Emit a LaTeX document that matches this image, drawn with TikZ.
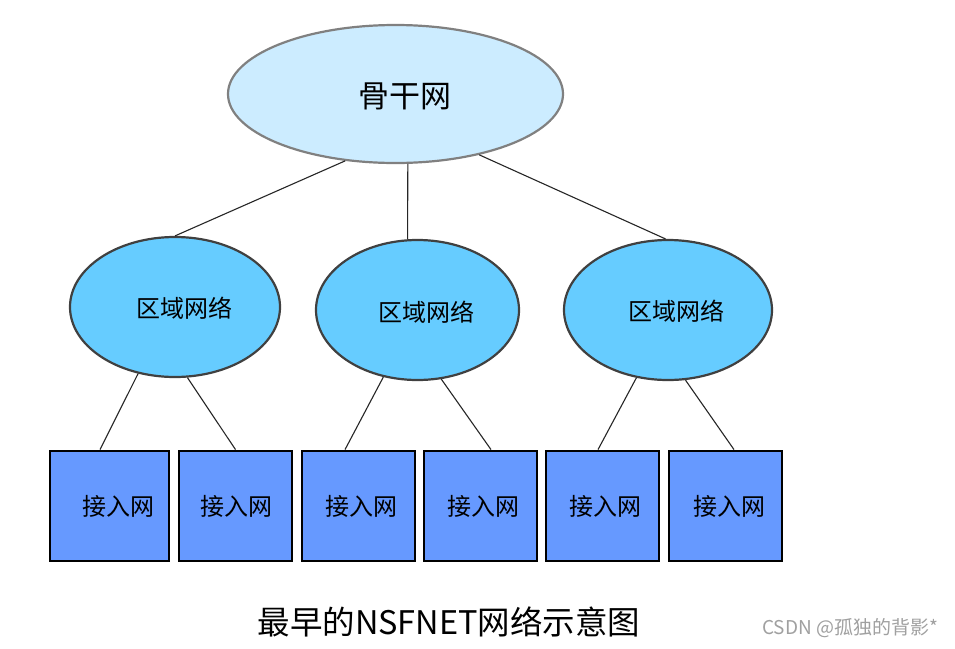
\documentclass[tikz,border=0pt]{standalone}
\usepackage{fontspec}
\setmainfont{Noto Sans CJK SC}
\usetikzlibrary{shapes.geometric,calc}
\definecolor{topfill}{HTML}{CCECFF}
\definecolor{topborder}{HTML}{808080}
\definecolor{regfill}{HTML}{66CCFF}
\definecolor{regborder}{HTML}{404040}
\definecolor{boxfill}{HTML}{6699FF}
\definecolor{wmgray}{HTML}{A0A0A0}
\newcommand{\fsz}[1]{\fontsize{#1}{#1}\selectfont}
\tikzset{
  topell/.style={ellipse, draw=topborder, line width=2.2pt, fill=topfill, minimum width=335pt, minimum height=138pt, inner sep=0pt},
  regell/.style={ellipse, draw=regborder, line width=2.2pt, fill=regfill, minimum height=140pt, inner sep=0pt},
  accbox/.style={rectangle, draw=black, line width=2.8pt, fill=boxfill, minimum height=110pt, inner sep=0pt},
  conn/.style={draw=black!85, line width=1.1pt},
  toptext/.style={font=\fsz{31pt}},
  regtext/.style={font=\fsz{24pt}},
  boxtext/.style={font=\fsz{24pt}}
}
\begin{document}
\begin{tikzpicture}[x=1pt,y=-1pt]
\useasboundingbox[fill=white] (0,0) rectangle (955,648);
% backbone
\node[topell, label={[toptext, xshift=9pt, yshift=-2pt]center:骨干网}] (top) at (395.5,94) {};
% regional networks
\node[regell, minimum width=210pt, label={[regtext, xshift=9pt, yshift=-1pt]center:区域网络}] (r1) at (175,307) {};
\node[regell, minimum width=203pt, label={[regtext, xshift=9pt, yshift=-2pt]center:区域网络}] (r2) at (417.5,310) {};
\node[regell, minimum width=208pt, label={[regtext, xshift=8pt, yshift=-1pt]center:区域网络}] (r3) at (668,310) {};
% access networks
\node[accbox, minimum width=119pt, label={[boxtext, xshift=9pt]center:接入网}] (b1) at (109.5,506) {};
\node[accbox, minimum width=113pt, label={[boxtext, xshift=1pt]center:接入网}] (b2) at (235.5,506) {};
\node[accbox, minimum width=113pt, label={[boxtext, xshift=3pt]center:接入网}] (b3) at (358.5,506) {};
\node[accbox, minimum width=113pt, label={[boxtext, xshift=3pt]center:接入网}] (b4) at (480.5,506) {};
\node[accbox, minimum width=113pt, label={[boxtext, xshift=3pt]center:接入网}] (b5) at (602.5,506) {};
\node[accbox, minimum width=113pt, label={[boxtext, xshift=3.5pt]center:接入网}] (b6) at (725.5,506) {};
% connectors
\draw[conn] (top.233) -- (r1.north);
\draw[conn] (top.280) -- (r2.98);
\draw[conn] (top.324) -- (r3.92);
\draw[conn] (r1.241) -- ($(b1.north)+(-9.5,0)$);
\draw[conn] (r1.280) -- (b2.north);
\draw[conn] (r2.243) -- ($(b3.north)+(-13.5,0)$);
\draw[conn] (r2.289) -- ($(b4.north)+(10.5,0)$);
\draw[conn] (r3.245) -- ($(b5.north)+(-4.5,0)$);
\draw[conn] (r3.284) -- ($(b6.north)+(8.5,0)$);
% caption and watermark
\node[font=\fsz{32.5pt}, inner sep=0pt] (caption) at (449,622) {最早的NSFNET网络示意图};
\node[font=\fsz{19pt}, text=wmgray, inner sep=0pt] (wm) at (850,628) {CSDN @孤独的背影*};
\end{tikzpicture}
\end{document}
